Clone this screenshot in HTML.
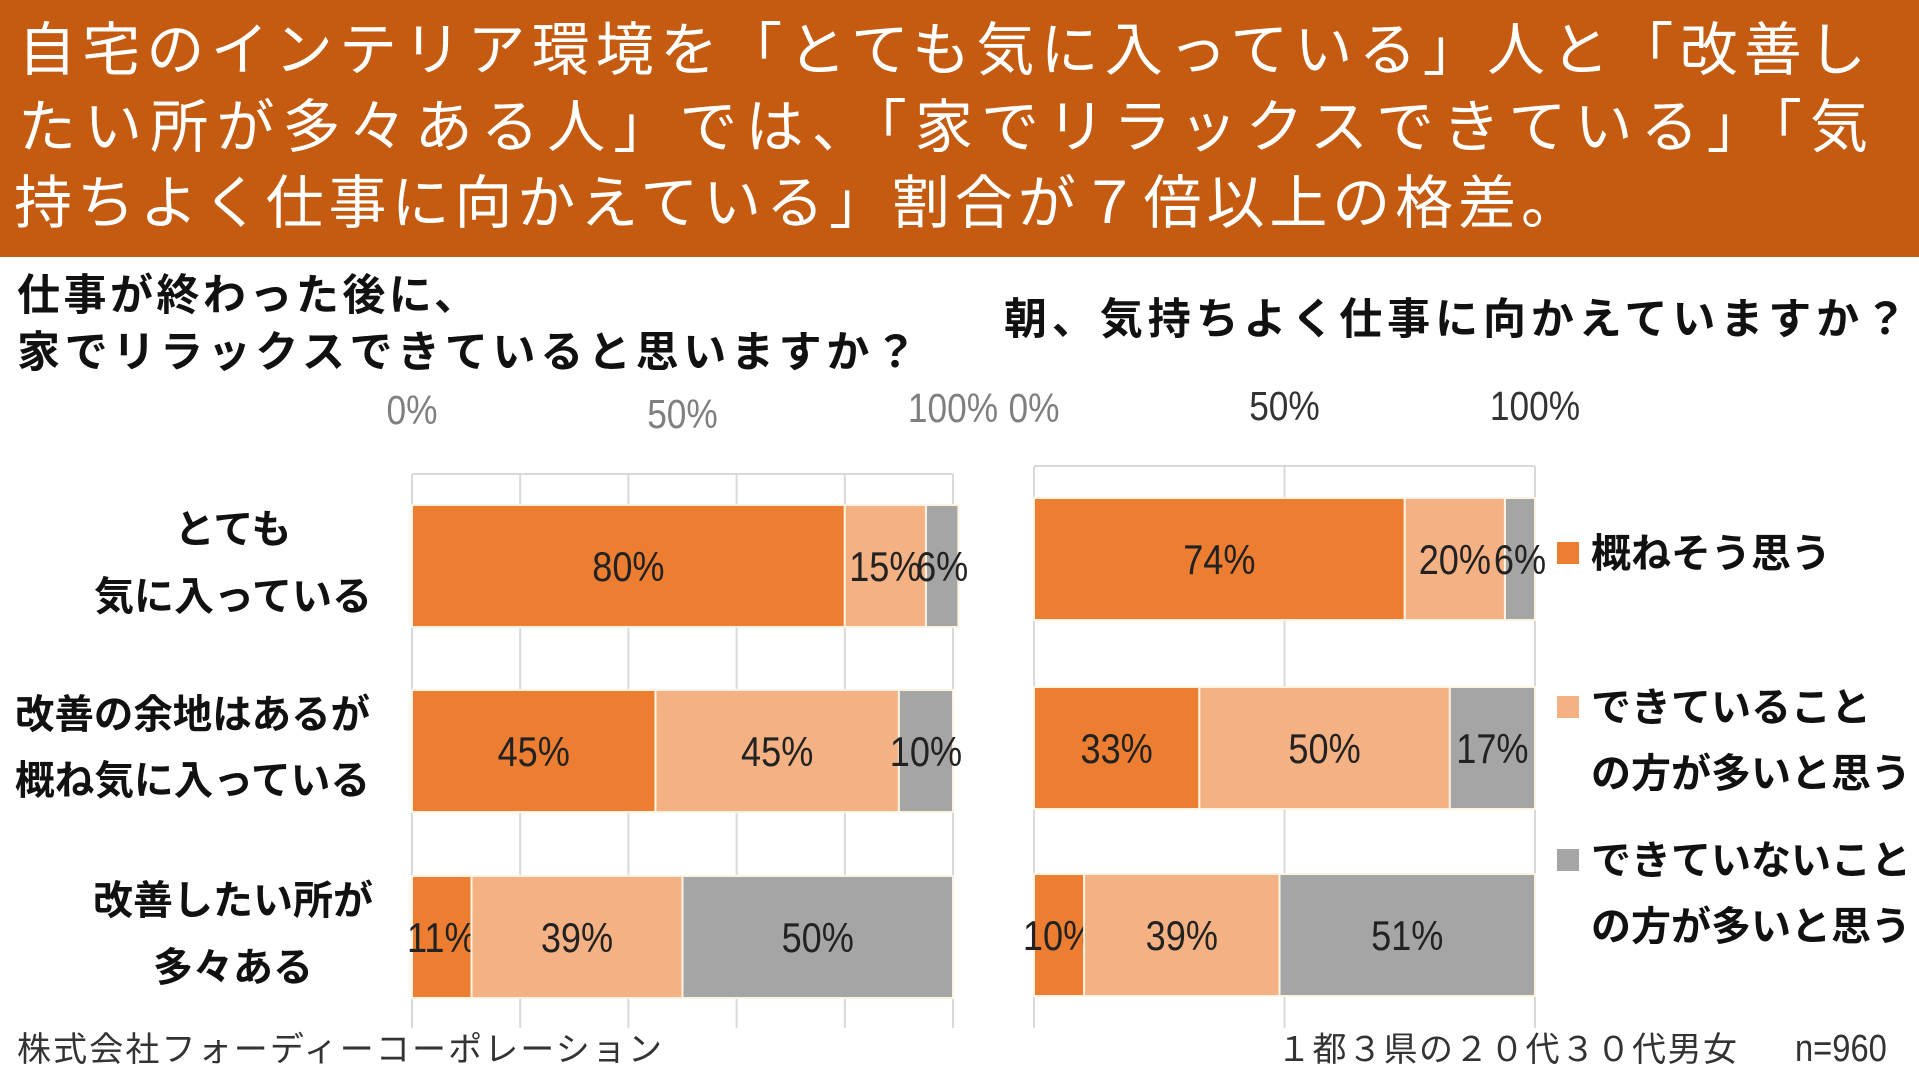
<!DOCTYPE html>
<html><head><meta charset="utf-8"><style>
body{margin:0;width:1919px;height:1079px;overflow:hidden;background:#fff;font-family:"Liberation Sans","Noto Sans CJK JP",sans-serif}
svg text{font-family:"Liberation Sans","Noto Sans CJK JP",sans-serif}
</style></head><body>
<svg id="s" width="1919" height="1079" xmlns="http://www.w3.org/2000/svg">
<rect x="0" y="0" width="1919" height="257" fill="#c55a11"/>
<g fill="#fff" font-size="58">
<text x="18" y="70" textLength="1848" lengthAdjust="spacing">自宅のインテリア環境を「とても気に入っている」人と「改善し</text>
<text x="18" y="147" textLength="1850" lengthAdjust="spacing">たい所が多々ある人」では、「家でリラックスできている」「気</text>
<text x="14" y="223" textLength="1565" lengthAdjust="spacing">持ちよく仕事に向かえている」割合が７倍以上の格差。</text>
</g>
<g font-weight="bold" font-size="43" fill="#111">
<text x="17" y="310" textLength="460" lengthAdjust="spacing">仕事が終わった後に、</text>
<text x="17" y="367" textLength="900" lengthAdjust="spacing">家でリラックスできていると思いますか？</text>
<text x="1004" y="334" textLength="903" lengthAdjust="spacing">朝、気持ちよく仕事に向かえていますか？</text>
</g>
<g id="charts"></g>
<g font-size="34" fill="#333">
<text x="17" y="1061" textLength="645" lengthAdjust="spacing">株式会社フォーディーコーポレーション</text>
<text x="1277" y="1061" textLength="460" lengthAdjust="spacing">１都３県の２０代３０代男女</text>
<text x="1795" y="1061" font-size="38" class="num">n=960</text>
</g>
</svg>
<script>
const categories = [["とても","気に入っている"],["改善の余地はあるが","概ね気に入っている"],["改善したい所が","多々ある"]];
const leftAgree = [80,45,11];
const leftSome = [15,45,39];
const leftNot = [6,10,50];
const rightAgree = [74,33,10];
const rightSome = [20,50,39];
const rightNot = [6,17,51];
const tickLabels = ["0%","50%","100%"];
const legendLabels = [["概ねそう思う"],["できていること","の方が多いと思う"],["できていないこと","の方が多いと思う"]];
const colors=["#ed7d31","#f4b183","#a5a5a5"];
const NS="http://www.w3.org/2000/svg";
const root=document.getElementById('charts');
function mk(tag,at,txt,parent){const e=document.createElementNS(NS,tag);for(const k in at)e.setAttribute(k,at[k]);if(txt!=null)e.textContent=txt;(parent||root).appendChild(e);return e;}
function drawChart(cfg,series,prefix){
  const x=v=>cfg.x0+(cfg.x1-cfg.x0)*v/100;
  mk('line',{x1:cfg.x0,x2:cfg.x1,y1:cfg.top,y2:cfg.top,stroke:'#d9d9d9','stroke-width':2});
  cfg.grid.forEach(g=>{const l=mk('line',{x1:x(g),x2:x(g),y1:cfg.top,y2:cfg.bottom,stroke:'#d9d9d9','stroke-width':2});
    
    });
  tickLabels.forEach((t,i)=>{const el=mk('text',{class:'num',x:x(i*50),y:cfg.tickY[i],'font-size':41,fill:cfg.tickFill[i],'text-anchor':'middle'},t);
    
    });
  cfg.barY.forEach((by,r)=>{let acc=0;
    series.forEach((s,k)=>{const v=s[r];
      const rc=mk('rect',{x:x(acc),y:by,width:x(acc+v)-x(acc),height:cfg.barH,fill:colors[k],stroke:'#fdf3e3','stroke-width':2});
      
      
      const tx=mk('text',{class:'num',x:(x(acc)+x(acc+v))/2,y:by+cfg.barH/2+15,'font-size':42,fill:'#222','text-anchor':'middle'},v+'%');
      
      
      acc+=v;});
  });
}
drawChart({x0:412,x1:953,top:474,bottom:1028,grid:[0,20,40,60,80,100],barY:[505,690,876],barH:122,tickY:[424,428,422],tickFill:['#7f7f7f','#7f7f7f','#7f7f7f']},[leftAgree,leftSome,leftNot],'left');
drawChart({x0:1034,x1:1535,top:466,bottom:1028,grid:[0,50,100],barY:[498,687,874],barH:122,tickY:[422,420,420],tickFill:['#7f7f7f','#333','#333']},[rightAgree,rightSome,rightNot],'right');
document.querySelectorAll('text.num').forEach(t=>{
  const w=t.getComputedTextLength();
  t.setAttribute('textLength',(w*0.86).toFixed(1));
  t.setAttribute('lengthAdjust','spacingAndGlyphs');
});
const catY=[[529,596],[714,780],[900,967]];
categories.forEach((c,i)=>c.forEach((line,j)=>{
  const at={x:i===1?15:233,y:catY[i][j]+14,'font-size':40,'font-weight':'bold',fill:'#111','text-anchor':i===1?'start':'middle'};
  if(i===1){at.textLength=355;at.lengthAdjust='spacingAndGlyphs';}
  const t=mk('text',at,line);
  
  
}));
const legY=[[553],[707,773],[860,926]];
legendLabels.forEach((l,i)=>{
  const sq=mk('rect',{x:1557,y:legY[i][0]-11,width:22,height:22,fill:colors[i]});
  
  
  l.forEach((line,j)=>{const t=mk('text',{x:1591,y:legY[i][j]+14,'font-size':40,'font-weight':'bold',fill:'#111'},line);
    
    });
});
</script>
</body></html>
